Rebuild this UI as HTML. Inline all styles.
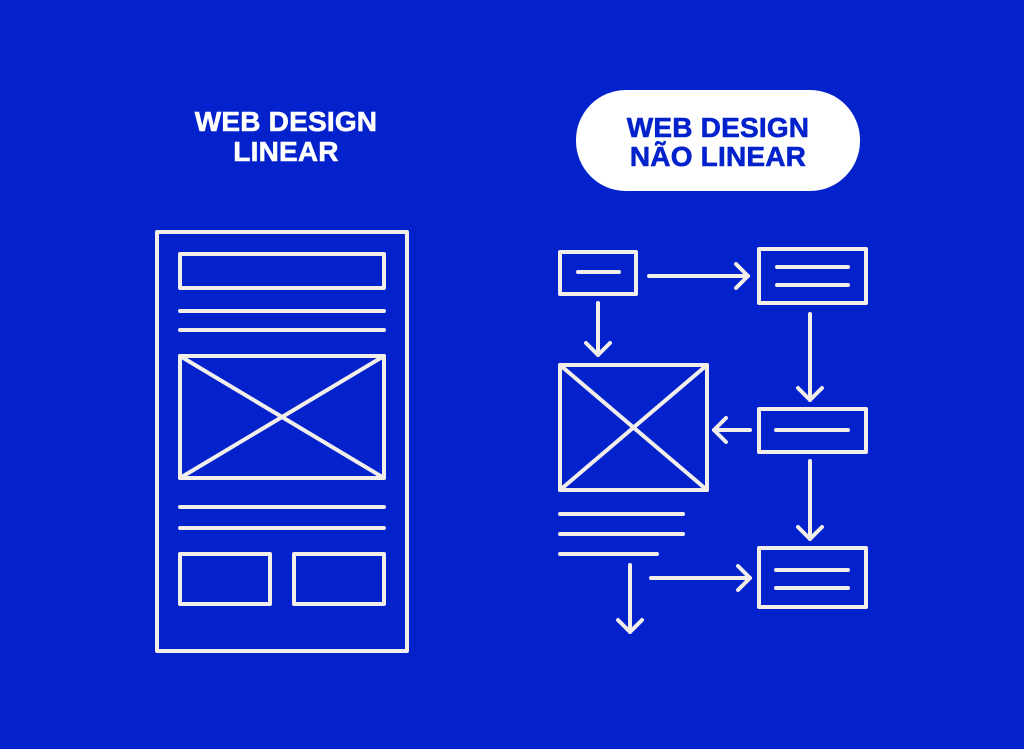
<!DOCTYPE html>
<html><head><meta charset="utf-8"><style>
html,body{margin:0;padding:0;background:#0322CC;}
svg{display:block}
text{font-family:"Liberation Sans",sans-serif;font-weight:bold;text-anchor:middle}
</style></head><body>
<svg width="1024" height="749" viewBox="0 0 1024 749" xmlns="http://www.w3.org/2000/svg">
<rect width="1024" height="749" fill="#0322CC"/>
<g fill="#fff" stroke="#fff" stroke-width="0.6" font-size="28" letter-spacing="0.2">
<text x="286" y="131">WEB DESIGN</text>
<text x="286" y="161">LINEAR</text>
</g>
<rect x="576" y="90" width="284" height="101" rx="50" fill="#fff"/>
<g fill="#0322CC" stroke="#0322CC" stroke-width="0.6" font-size="28" letter-spacing="0.2">
<text x="718" y="137">WEB DESIGN</text>
<text x="718" y="166">NÃO LINEAR</text>
</g>
<g fill="none" stroke="#F2EEEA" stroke-width="4" stroke-linecap="round" stroke-linejoin="round">
<rect x="157" y="232" width="250" height="419"/>
<rect x="180" y="254" width="204" height="34"/>
<line x1="180" y1="311" x2="384" y2="311"/>
<line x1="180" y1="330" x2="384" y2="330"/>
<rect x="180" y="356" width="204" height="122"/>
<line x1="180" y1="356" x2="384" y2="478"/>
<line x1="384" y1="356" x2="180" y2="478"/>
<line x1="180" y1="507" x2="384" y2="507"/>
<line x1="180" y1="528" x2="384" y2="528"/>
<rect x="180" y="554" width="90" height="50"/>
<rect x="294" y="554" width="90" height="50"/>
<rect x="560" y="252" width="76" height="42"/>
<line x1="578" y1="272" x2="619" y2="272"/>
<rect x="759" y="249" width="107" height="54"/>
<line x1="777" y1="267" x2="848" y2="267"/>
<line x1="777" y1="285" x2="848" y2="285"/>
<rect x="560" y="365" width="147" height="125"/>
<line x1="560" y1="365" x2="707" y2="490"/>
<line x1="707" y1="365" x2="560" y2="490"/>
<rect x="759" y="409" width="107" height="43"/>
<line x1="776" y1="430" x2="848" y2="430"/>
<rect x="759" y="548" width="107" height="59"/>
<line x1="776" y1="570" x2="848" y2="570"/>
<line x1="776" y1="588" x2="848" y2="588"/>
<line x1="560" y1="514" x2="683" y2="514"/>
<line x1="560" y1="534" x2="683" y2="534"/>
<line x1="560" y1="554" x2="657" y2="554"/>
<line x1="649" y1="276" x2="748" y2="276"/><polyline points="736,264 748,276 736,288"/>
<line x1="598" y1="303" x2="598" y2="355"/><polyline points="586,343 598,355 610,343"/>
<line x1="810" y1="314" x2="810" y2="400"/><polyline points="798,388 810,400 822,388"/>
<line x1="750" y1="430" x2="714" y2="430"/><polyline points="726,418 714,430 726,442"/>
<line x1="810" y1="461" x2="810" y2="539"/><polyline points="798,527 810,539 822,527"/>
<line x1="630" y1="565" x2="630" y2="632"/><polyline points="618,620 630,632 642,620"/>
<line x1="651" y1="578" x2="750" y2="578"/><polyline points="738,566 750,578 738,590"/>
</g>
</svg>
</body></html>
